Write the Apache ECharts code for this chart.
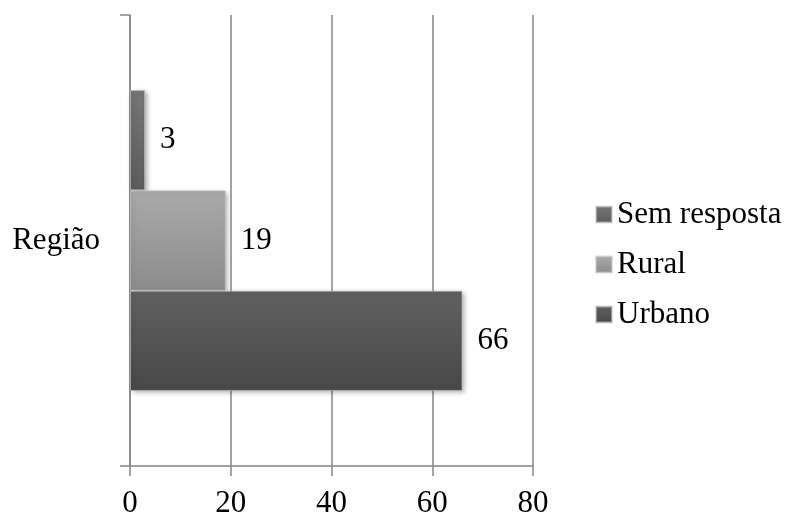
<!DOCTYPE html>
<html>
<head>
<meta charset="utf-8">
<title>Região</title>
<script src="https://cdn.jsdelivr.net/npm/echarts@6/dist/echarts.min.js"></script>
<style>
  html, body { margin: 0; padding: 0; background: #ffffff; }
  #chart { width: 790px; height: 514px; }
</style>
</head>
<body>
<div id="chart"></div>
<script>
// Data
var categories = ['Região'];
var seriesNames = ['Sem resposta', 'Rural', 'Urbano'];   // top to bottom
var semResposta = [3];
var rural = [19];
var urbano = [66];
var legendOrder = ['Sem resposta', 'Rural', 'Urbano'];
var xTicks = { min: 0, max: 80, interval: 20 };

var FONT = '"Liberation Serif", "Times New Roman", serif';
var GRID_GRAY = '#878787';

function grad(top, bottom) {
  return new echarts.graphic.LinearGradient(0, 0, 0, 1, [
    { offset: 0, color: top },
    { offset: 1, color: bottom }
  ]);
}

var fills = {
  'Urbano': grad('#616161', '#484848'),
  'Rural': grad('#aaaaaa', '#8c8c8c'),
  'Sem resposta': grad('#767676', '#5c5c5c')
};
var values = {
  'Urbano': urbano,
  'Rural': rural,
  'Sem resposta': semResposta
};

var chart = echarts.init(document.getElementById('chart'), null, { renderer: 'canvas' });

var series = seriesNames.map(function (name) {
  return {
    name: name,
    type: 'bar',
    data: values[name],
    barGap: '0%',
    barCategoryGap: '33.3%',
    itemStyle: {
      color: fills[name],
      borderColor: 'rgba(200,200,200,0.6)',
      borderWidth: 1,
      shadowColor: 'rgba(0,0,0,0.35)',
      shadowBlur: 5,
      shadowOffsetX: 2,
      shadowOffsetY: 2
    },
    label: {
      show: true,
      position: 'right',
      distance: 15,
      color: '#000',
      fontFamily: FONT,
      fontSize: 31
    },
    emphasis: { disabled: true },
    animation: false
  };
});

chart.setOption({
  animation: false,
  backgroundColor: '#ffffff',
  grid: {
    left: 130, right: 257, top: 15, bottom: 48,
    containLabel: false,
    outerBoundsMode: 'none'
  },
  legend: {
    orient: 'vertical',
    left: 590,
    top: 194,
    data: legendOrder,
    itemWidth: 16,
    itemHeight: 16,
    itemGap: 19,
    icon: 'rect',
    textStyle: { color: '#000', fontFamily: FONT, fontSize: 31, padding: [0, 0, 0, 0] }
  },
  xAxis: {
    type: 'value',
    min: xTicks.min,
    max: xTicks.max,
    interval: xTicks.interval,
    axisLine: { show: true, lineStyle: { color: GRID_GRAY, width: 1.5 } },
    axisTick: { show: true, length: 10, lineStyle: { color: GRID_GRAY, width: 1.5 } },
    splitLine: { show: true, lineStyle: { color: GRID_GRAY, width: 1.5 } },
    axisLabel: { color: '#000', fontFamily: FONT, fontSize: 31, margin: 22 }
  },
  yAxis: {
    type: 'category',
    data: categories,
    axisLine: { show: true, lineStyle: { color: GRID_GRAY, width: 1.5 } },
    axisTick: { show: true, length: 10, alignWithLabel: false, lineStyle: { color: GRID_GRAY, width: 1.5 } },
    axisLabel: { color: '#000', fontFamily: FONT, fontSize: 31, margin: 30 }
  },
  series: series
});
</script>
</body>
</html>
